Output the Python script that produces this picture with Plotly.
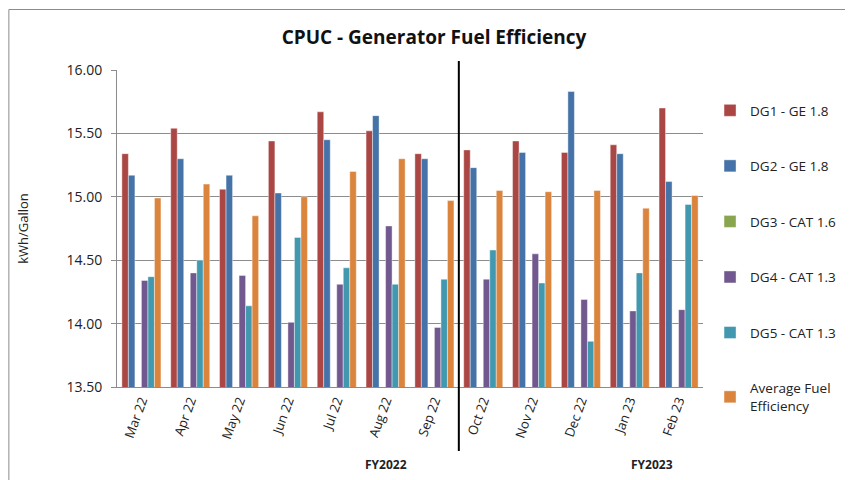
import plotly.graph_objects as go

months = ["Mar 22", "Apr 22", "May 22", "Jun 22", "Jul 22", "Aug 22", "Sep 22",
          "Oct 22", "Nov 22", "Dec 22", "Jan 23", "Feb 23"]

dg1 = [15.34, 15.54, 15.06, 15.44, 15.67, 15.52, 15.34, 15.37, 15.44, 15.35, 15.41, 15.70]
dg2 = [15.17, 15.30, 15.17, 15.03, 15.45, 15.64, 15.30, 15.23, 15.35, 15.83, 15.34, 15.12]
dg3 = [None] * 12
dg4 = [14.34, 14.40, 14.38, 14.01, 14.31, 14.77, 13.97, 14.35, 14.55, 14.19, 14.10, 14.11]
dg5 = [14.37, 14.50, 14.14, 14.68, 14.44, 14.31, 14.35, 14.58, 14.32, 13.86, 14.40, 14.94]
avg = [14.99, 15.10, 14.85, 15.00, 15.20, 15.30, 14.97, 15.05, 15.04, 15.05, 14.91, 15.01]

series = [
    ("DG1 - GE 1.8", dg1, "#AA4643"),
    ("DG2 - GE 1.8", dg2, "#4572A7"),
    ("DG3 - CAT 1.6", dg3, "#89A54E"),
    ("DG4 - CAT 1.3", dg4, "#71588F"),
    ("DG5 - CAT 1.3", dg5, "#4198AF"),
    ("Average Fuel<br>Efficiency", avg, "#DB843D"),
]

fig = go.Figure()
for i, (name, vals, col) in enumerate(series):
    fig.add_trace(go.Bar(
        x=months, y=vals, name=name, marker_color=col,
        marker_line=dict(color="rgba(255,255,255,0.7)", width=0.6),
        legendgroup=f"g{i}",
    ))

font_family = "Open Sans, Lato, sans-serif"

# page has an 8px body margin, so figure is 845x472 and offsets are compensated
W, H = 845, 472
L, T, PW, PH = 109, 62, 588, 317

fig.update_layout(
    width=W, height=H,
    paper_bgcolor="white", plot_bgcolor="white",
    margin=dict(l=L, r=W - L - PW, t=T, b=H - T - PH),
    barmode="group", bargap=0.2, bargroupgap=0.0,
    font=dict(family=font_family, size=12, color="#222"),
    title=dict(text="<b>CPUC - Generator Fuel Efficiency</b>", x=426/W, xanchor="center",
               y=1 - 29/H, yanchor="middle", xref="container", yref="container",
               font=dict(size=19, color="#111")),
    legend=dict(x=1.012, y=0.921, xanchor="left", yanchor="top",
                tracegroupgap=35, font=dict(size=13.5, color="#222"),
                bgcolor="rgba(0,0,0,0)", maxheight=460),
    showlegend=True,
)

fig.update_yaxes(range=[13.5, 16.0], dtick=0.5, tickformat=".2f",
                 showgrid=True, gridcolor="#8c8c8c", gridwidth=1,
                 showline=True, linecolor="#8c8c8c", linewidth=1,
                 ticks="outside", ticklen=5, tickcolor="#8c8c8c",
                 ticklabelstandoff=6,
                 tickfont=dict(size=14, color="#222"),
                 title=dict(text="kWh/Gallon", font=dict(size=13, color="#222"), standoff=34),
                 automargin=False,
                 zeroline=False)
fig.update_xaxes(showline=True, linecolor="#8c8c8c", linewidth=1,
                 tickangle=-70, tickfont=dict(size=13, color="#222"),
                 ticks="", showgrid=False, automargin=False)

# vertical divider between fiscal years
fig.add_shape(type="line", xref="paper", yref="paper",
              x0=7/12, x1=7/12, y0=(387-61)/317, y1=(387-451)/317,
              line=dict(color="black", width=2))

# outer frame (left and top edges)
fig.add_shape(type="line", xref="paper", yref="paper",
              x0=(0.5-L)/PW, x1=(0.5-L)/PW, y0=(T+PH-1.5)/PH, y1=-0.5,
              line=dict(color="#8c8c8c", width=1))
fig.add_shape(type="line", xref="paper", yref="paper",
              x0=(0.5-L)/PW, x1=(W-L)/PW, y0=(T+PH-1.5)/PH, y1=(T+PH-1.5)/PH,
              line=dict(color="#8c8c8c", width=1))

fig.add_annotation(text="<b>FY2022</b>", x=5, xref="x", y=(387-475)/317, yref="paper",
                   showarrow=False, font=dict(size=12, color="#222"))
fig.add_annotation(text="<b>FY2023</b>", x=10.45, xref="x", y=(387-475)/317, yref="paper",
                   showarrow=False, font=dict(size=12, color="#222"))

fig.write_html("out.html")
